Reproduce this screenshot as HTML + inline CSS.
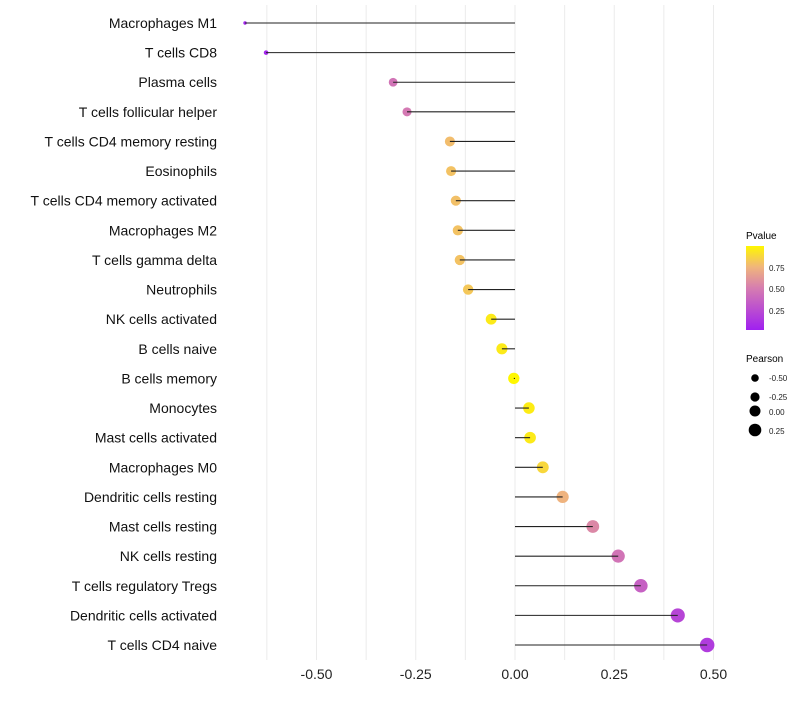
<!DOCTYPE html>
<html><head><meta charset="utf-8"><style>
body{margin:0;background:#fff;font-family:"Liberation Sans",sans-serif}
</style></head><body>
<svg id="chart" width="800" height="700" xmlns="http://www.w3.org/2000/svg">
<defs><linearGradient id="pg" x1="0" y1="1" x2="0" y2="0">
<stop offset="0" stop-color="#A020F0"/><stop offset="0.5" stop-color="#D67DB0"/><stop offset="0.75" stop-color="#F0B57C"/><stop offset="1" stop-color="#FFF700"/></linearGradient></defs>
<g id="grid"></g><g id="marks"></g><g id="ylabels"></g><g id="xlabels"></g>
<g>
<text x="746" y="239" font-size="10" fill="#000">Pvalue</text>
<rect x="746" y="246" width="18" height="84" fill="url(#pg)"/>
<text x="769" y="271" font-size="8" fill="#222">0.75</text>
<text x="769" y="292" font-size="8" fill="#222">0.50</text>
<text x="769" y="314" font-size="8" fill="#222">0.25</text>
</g>
<g>
<text x="746" y="362" font-size="10" fill="#000">Pearson</text>
<circle cx="755" cy="378" r="3.8" fill="#000"/><text x="769" y="381" font-size="8" fill="#222">-0.50</text>
<circle cx="755" cy="397" r="4.6" fill="#000"/><text x="769" y="400" font-size="8" fill="#222">-0.25</text>
<circle cx="755" cy="411" r="5.5" fill="#000"/><text x="769" y="415" font-size="8" fill="#222">0.00</text>
<circle cx="755" cy="430" r="6.3" fill="#000"/><text x="769" y="434" font-size="8" fill="#222">0.25</text>
</g>
</svg>
<script>
const categories=["Macrophages M1","T cells CD8","Plasma cells","T cells follicular helper","T cells CD4 memory resting","Eosinophils","T cells CD4 memory activated","Macrophages M2","T cells gamma delta","Neutrophils","NK cells activated","B cells naive","B cells memory","Monocytes","Mast cells activated","Macrophages M0","Dendritic cells resting","Mast cells resting","NK cells resting","T cells regulatory  Tregs","Dendritic cells activated","T cells CD4 naive"];
const pearson=[-0.68,-0.627,-0.307,-0.272,-0.164,-0.161,-0.149,-0.144,-0.139,-0.118,-0.06,-0.033,-0.003,0.035,0.038,0.07,0.12,0.196,0.26,0.317,0.41,0.484];
const pvalues=[0.02,0.03,0.45,0.48,0.78,0.8,0.79,0.8,0.8,0.82,0.95,0.95,1.0,0.96,0.95,0.88,0.74,0.55,0.45,0.35,0.2,0.15];
const xticks=[-0.5,-0.25,0,0.25,0.5];
const xtickLabels=["-0.50","-0.25","0.00","0.25","0.50"];
const NS="http://www.w3.org/2000/svg";
const x=v=>515+v*397;
const y=i=>23+i*(622/21);
const rad=v=>Math.sqrt(Math.max(1,3+43*(v+0.68)));
const stops=[[0,[160,32,240]],[0.5,[214,125,176]],[0.75,[240,181,124]],[1,[255,247,0]]];
function col(p){for(let k=1;k<stops.length;k++){if(p<=stops[k][0]){const a=stops[k-1],b=stops[k];const t=(p-a[0])/(b[0]-a[0]);return "rgb("+a[1].map((c,j)=>Math.round(c+(b[1][j]-c)*t)).join(",")+")";}}return "rgb(255,247,0)";}
function mk(tag,attrs,parent){const e=document.createElementNS(NS,tag);for(const k in attrs)e.setAttribute(k,attrs[k]);document.getElementById(parent).appendChild(e);return e;}
for(let g=-0.625;g<=0.5001;g+=0.125){
 const l=mk("line",{x1:x(g),x2:x(g),y1:5,y2:660,stroke:"#ebebeb","stroke-width":1},"grid");
 
 
}
xticks.forEach((t,i)=>{
 const tx=mk("text",{x:x(t),y:679,"font-size":14,"text-anchor":"middle",fill:"#222"},"xlabels");
 tx.textContent=xtickLabels[i];
 
 
});
categories.forEach((c,i)=>{
 const t=mk("text",{x:217,y:y(i)+5,"font-size":14,"text-anchor":"end",fill:"#111"},"ylabels");
 t.textContent=c;
 
 
 const ci=mk("circle",{cx:x(pearson[i]),cy:y(i),r:rad(pearson[i]),fill:col(pvalues[i])},"marks");
 
 
 const l=mk("line",{x1:x(0),x2:x(pearson[i]),y1:y(i),y2:y(i),stroke:"#222","stroke-width":1.1},"marks");
 
 
});
</script>
</body></html>
